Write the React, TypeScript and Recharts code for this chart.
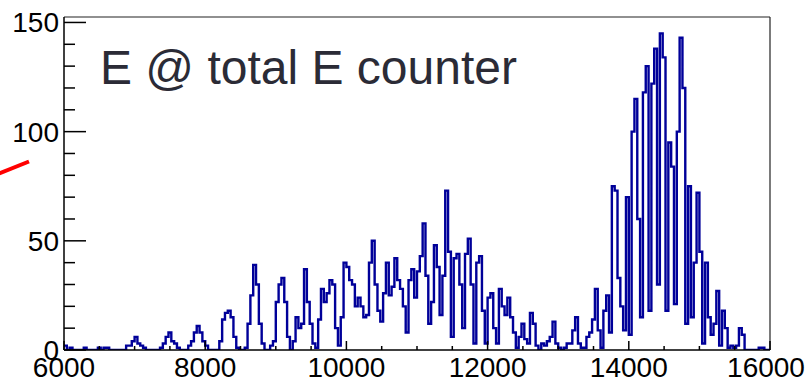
import React from "react";
import { LineChart, Line, XAxis, YAxis, ReferenceLine } from "recharts";

// histogram: 40-unit bins starting at 6000, counts
const BIN_START = 6000;
const BIN_WIDTH = 40;

const counts6000 = [
  2, 0, 1, 0, 0, 0, 0, 1, 0, 0, 0, 0, 1, 0, 1, 1, 0, 0, 0, 0,
  0, 0, 2, 2, 4, 6, 3, 2, 1, 0, 0, 0, 0, 0, 1, 3, 6, 8, 4, 3,
  1, 0, 0, 0, 2, 4, 8, 11, 8, 4,
];
const counts8000 = [
  2, 0, 0, 0, 0, 4, 14, 17, 18, 15, 6, 1, 0, 0, 1, 12, 25, 39, 30, 12,
  3, 0, 0, 2, 4, 22, 30, 33, 22, 6, 0, 4, 15, 10, 12, 37, 22, 12, 3, 1,
  14, 28, 22, 26, 32, 30, 10, 2, 15, 40,
];
const counts10000 = [
  38, 32, 30, 20, 24, 20, 15, 16, 40, 50, 30, 18, 13, 26, 40, 25, 29, 42, 32, 28,
  20, 8, 32, 37, 24, 36, 43, 58, 34, 12, 22, 48, 38, 16, 34, 73, 45, 6, 42, 44,
  30, 10, 44, 51, 30, 3, 40, 43, 18, 3,
];
const counts12000 = [
  24, 26, 10, 3, 28, 20, 16, 24, 15, 8, 1, 6, 12, 5, 3, 17, 12, 2, 0, 3,
  2, 4, 6, 13, 3, 1, 0, 1, 3, 3, 9, 15, 3, 1, 1, 6, 8, 14, 28, 9,
  1, 18, 25, 8, 75, 73, 33, 20, 9, 70,
];
const counts14000 = [
  7, 100, 115, 60, 15, 118, 130, 18, 122, 138, 30, 145, 134, 18, 95, 84, 21, 100, 143, 120,
  12, 75, 15, 40, 72, 45, 3, 40, 15, 7, 12, 27, 2, 18, 10, 1, 2, 1, 2, 10,
  7, 0, 0, 0, 0, 0, 1, 1, 0, 0,
];

const counts = [...counts6000, ...counts8000, ...counts10000, ...counts12000, ...counts14000];

const xTicks = [
  6000, 6500, 7000, 7500, 8000, 8500, 9000, 9500, 10000, 10500, 11000,
  11500, 12000, 12500, 13000, 13500, 14000, 14500, 15000, 15500, 16000,
];
const xLabels = [6000, 8000, 10000, 12000, 14000, 16000];
const yTicks = [0, 10, 20, 30, 40, 50, 60, 70, 80, 90, 100, 110, 120, 130, 140, 150];
const yLabels = [0, 50, 100, 150];

const rows = counts.map((y, i) => ({ x: BIN_START + i * BIN_WIDTH, y }));
rows.push({ x: BIN_START + counts.length * BIN_WIDTH, y: counts[counts.length - 1] });

const FONT = "'Liberation Sans', Arial, sans-serif";

function YTick(props: any) {
  const { x, y, payload } = props;
  const v = payload.value;
  const major = yLabels.includes(v);
  return (
    <g>
      <line x1={x} x2={x + (major ? 22 : 11)} y1={y} y2={y} stroke="#000" strokeWidth={1.5} />
      {major && (
        <text x={x - 5} y={y + 10} textAnchor="end" fontSize={28} fontFamily={FONT} fill="#000">
          {v}
        </text>
      )}
    </g>
  );
}

function XTick(props: any) {
  const { x, y, payload } = props;
  const v = payload.value;
  const major = xLabels.includes(v);
  // the last label is nudged left a little, as in the original canvas
  const lx = v === 16000 ? x - 4 : x;
  return (
    <g>
      <line x1={x} x2={x} y1={y} y2={y - (major ? 9 : 4)} stroke="#000" strokeWidth={1.5} />
      {major && (
        <text x={lx} y={y + 27} textAnchor="middle" fontSize={28} fontFamily={FONT} fill="#000">
          {v}
        </text>
      )}
    </g>
  );
}

export default function App() {
  return (
    <div style={{ position: "absolute", left: 0, top: 0, width: 809, height: 384, background: "#fff" }}>
      <LineChart
        width={809}
        height={384}
        data={rows}
        margin={{ top: 17, right: 39, bottom: 0, left: 0 }}
      >
        <XAxis
          dataKey="x"
          type="number"
          domain={[6000, 16000]}
          ticks={xTicks}
          interval={0}
          height={34}
          tickSize={0}
          tickMargin={0}
          tickLine={false}
          axisLine={{ stroke: "#000", strokeWidth: 1.5 }}
          tick={<XTick />}
          allowDataOverflow
        />
        <YAxis
          type="number"
          domain={[0, 152.5]}
          ticks={yTicks}
          interval={0}
          width={64}
          tickSize={0}
          tickMargin={0}
          tickLine={false}
          axisLine={{ stroke: "#000", strokeWidth: 1.5 }}
          tick={<YTick />}
          allowDataOverflow
        />
        <ReferenceLine y={152.5} stroke="#222" strokeWidth={1.2} />
        <ReferenceLine x={16000} stroke="#222" strokeWidth={1.2} />
        <Line
          dataKey="y"
          type="stepAfter"
          stroke="#000099"
          strokeWidth={2.4}
          dot={false}
          activeDot={false}
          isAnimationActive={false}
        />
      </LineChart>
      <svg
        width={809}
        height={384}
        style={{ position: "absolute", left: 0, top: 0, pointerEvents: "none" }}
      >
        <text x={100} y={84} fontSize={48} fontFamily={FONT} fill="#2b2b36">
          E @ total E counter
        </text>
        <line x1={-2} y1={174} x2={29} y2={161.5} stroke="#ff0000" strokeWidth={4} />
      </svg>
    </div>
  );
}
